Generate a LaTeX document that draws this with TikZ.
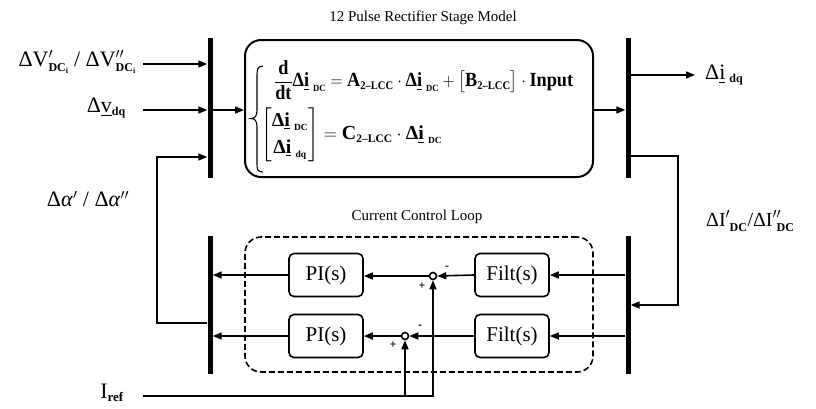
\documentclass[tikz,border=0pt]{standalone}
\usepackage{amsmath}
\usepackage{graphicx}
\usepackage{fontspec}
\setmainfont{Liberation Serif}
\usetikzlibrary{arrows.meta}
\newcommand{\sbt}[1]{\hbox{\fontsize{12}{12}\selectfont\bfseries #1}}
\newcommand{\sbe}[1]{\hbox{\fontsize{11}{11}\selectfont\bfseries #1}}
\newcommand{\sbd}[1]{\hbox{\fontsize{9}{9}\selectfont\bfseries #1}}
\newcommand{\sbi}{\raisebox{-2pt}{\fontsize{8}{8}\selectfont\bfseries i}}
\newcommand{\dip}[1]{\text{Δ}\underline{\text{i}}_{\;\sbd{#1}}}
\begin{document}
\begin{tikzpicture}[x=1pt,y=-1pt,
  vbar/.style={fill=black,draw=none,minimum width=5pt,inner sep=0pt},
  wire/.style={line width=1.6pt},
  arr/.style={wire,-{Triangle[length=9pt,width=7pt]}},
  blk/.style={draw,line width=1.6pt,rounded corners=5pt,minimum width=74pt,minimum height=43pt,inner sep=0pt,font=\fontsize{21}{24}\selectfont},
  sumc/.style={circle,draw,line width=1.6pt,minimum size=7pt,inner sep=0pt},
  lbl/.style={inner sep=0pt,font=\fontsize{22}{25}\selectfont},
  captxt/.style={inner sep=0pt,font=\fontsize{15}{18}\selectfont},
  eqtxt/.style={inner sep=0pt,anchor=west,font=\fontsize{19}{22}\selectfont\bfseries},
  sgn/.style={inner sep=0pt,font=\fontsize{12}{12}\selectfont\bfseries}]
\useasboundingbox (0,0) rectangle (816,408);
% bars
\node[vbar,minimum height=140pt] (barL) at (210,108) {};
\node[vbar,minimum height=140pt] (barR) at (628,108) {};
\node[vbar,minimum height=138pt] (barLL) at (210,305) {};
\node[vbar,minimum height=138pt] (barRR) at (628,305) {};
% model box
\node[draw,line width=2pt,rounded corners=16pt,minimum width=348pt,minimum height=137pt,inner sep=0pt] (model) at (419,108.5) {};
\node[captxt] (title) at (423,18) {12 Pulse Rectifier Stage Model};
\draw[line width=1.1pt] (263,66) .. controls (257,66) and (257,70) .. (257,78) -- (257,110)
  .. controls (257,116) and (255,118.5) .. (251,118.5)
  .. controls (255,118.5) and (257,121) .. (257,127) -- (257,163)
  .. controls (257,169) and (257,172) .. (263,172);
\node[eqtxt] (eq1) at (274,80) {\resizebox*{299pt}{39pt}{$\dfrac{\text{d}}{\text{dt}}\dip{DC}=\text{A}_{\sbe{2–LCC}}\cdot\dip{DC}+\big[\text{B}_{\sbe{2–LCC}}\big]\cdot\text{Input}$}};
\node[eqtxt] (eq2) at (261,135) {\resizebox*{181pt}{54pt}{$\begin{bmatrix}\dip{DC}\\[4pt]\dip{dq}\end{bmatrix}=\text{C}_{\sbe{2–LCC}}\cdot\dip{DC}$}};
% control loop
\node[draw,dashed,dash pattern=on 6pt off 3pt,line width=1.6pt,rounded corners=16pt,minimum width=348pt,minimum height=135pt,inner sep=0pt] (loop) at (419,304.5) {};
\node[captxt] (looplbl) at (417,217) {Current Control Loop};
\node[blk] (p1) at (326,275) {PI(s)};
\node[blk] (p2) at (326,336) {PI(s)};
\node[blk] (f1) at (512,275) {Filt(s)};
\node[blk] (f2) at (512,336) {Filt(s)};
\node[sumc] (s1) at (433,276) {};
\node[sumc] (s2) at (405,336) {};
\node[sgn] (m1) at (447,268) {-};
\node[sgn] (a1) at (422,286) {+};
\node[sgn] (m2) at (420,327) {-};
\node[sgn] (a2) at (393,345) {+};
% labels
\node[lbl,anchor=east] (lv) at (136,62) {ΔV$'_{\sbt{DC\sbi}}$ / ΔV$''_{\sbt{DC\sbi}}$};
\node[lbl,anchor=east] (lvdq) at (126,108) {Δ\underline{v}$_{\sbt{dq}}$};
\node[lbl,anchor=west] (lidq) at (705,75) {Δ\underline{i}$_{\;\sbt{dq}}$};
\node[lbl] (lalpha) at (88,199) {Δ\textit{α}$'$ / Δ\textit{α}$''$};
\node[lbl,anchor=west,font=\fontsize{20}{23}\selectfont] (lI) at (706,221) {ΔI$'_{\;\sbt{DC}}$/ΔI$''_{\;\sbt{DC}}$};
\node[lbl] (lref) at (112,393) {I$_{\hbox{\fontsize{13}{13}\selectfont\bfseries ref}}$};
% coordinates
\coordinate (in1) at (143,64);
\coordinate (in2) at (143,110);
\coordinate (out1) at (695,75);
\coordinate (fbL1) at (157,323);
\coordinate (fbL2) at (157,157);
\coordinate (fbR1) at (678,156);
\coordinate (fbR2) at (678,305);
\coordinate (iref0) at (143,396);
% connectors
\draw[arr] (in1) -- (barL.west|-in1);
\draw[arr] (in2) -- (barL.west|-in2);
\draw[arr] (barL.east|-in2) -- (model.west|-in2);
\draw[arr] (model.east|-in2) -- (barR.west|-in2);
\draw[arr] (barR.east|-out1) -- (out1);
\draw[arr] (barLL.west|-fbL1) -- (fbL1) -- (fbL2) -- (barL.west|-fbL2);
\draw[arr] (barR.east|-fbR1) -- (fbR1) -- (fbR2) -- (barRR.east|-fbR2);
\draw[arr] (barRR.west|-f1) -- (f1.east);
\draw[arr] (barRR.west|-f2) -- (f2.east);
\draw[arr] (f1.west) -- (s1.east);
\draw[arr] (f2.west) -- (s2.east);
\draw[arr] (s1.west) -- (p1.east|-s1);
\draw[arr] (s2.west) -- (p2.east);
\draw[arr] (p1.west) -- (barLL.east|-p1);
\draw[arr] (p2.west) -- (barLL.east|-p2);
\draw[arr] (iref0) -- (s1|-iref0) -- (s1.south);
\draw[arr] (s2|-iref0) -- (s2.south);
\end{tikzpicture}
\end{document}
